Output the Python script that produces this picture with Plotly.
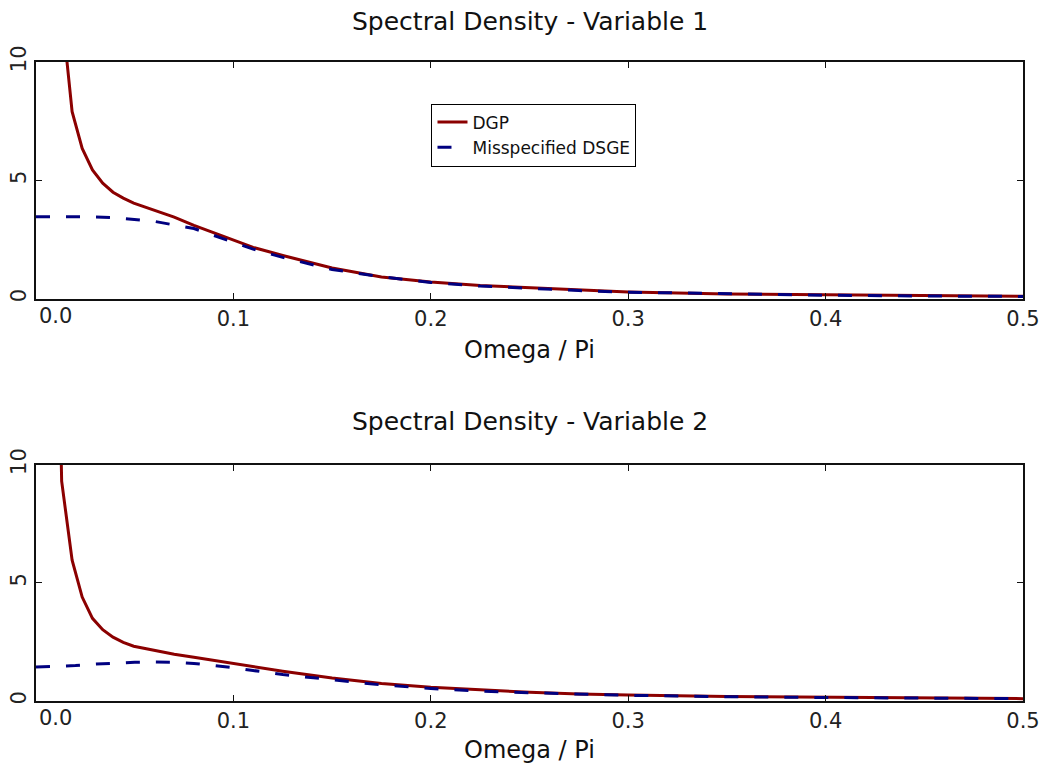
import plotly.graph_objects as go
from plotly.subplots import make_subplots

# ---- data ----
x_dgp = [0.0078, 0.013, 0.0183, 0.0234, 0.0286, 0.0338, 0.039, 0.0442, 0.0495,
         0.06, 0.07, 0.08, 0.09, 0.1, 0.11, 0.125, 0.15, 0.175, 0.2, 0.225,
         0.25, 0.275, 0.3, 0.35, 0.4, 0.45, 0.5]
v1_dgp = [20.0, 12.2, 7.9, 6.35, 5.44, 4.88, 4.5, 4.25, 4.04,
          3.75, 3.45, 3.1, 2.8, 2.48, 2.17, 1.83, 1.30, 0.92, 0.71, 0.56,
          0.46, 0.37, 0.29, 0.20, 0.16, 0.13, 0.11]
v2_dgp = [30.0, 9.3, 5.96, 4.4, 3.5, 3.02, 2.7, 2.48, 2.32,
          2.13, 1.98, 1.85, 1.72, 1.60, 1.47, 1.26, 0.97, 0.74, 0.58, 0.46,
          0.37, 0.30, 0.25, 0.19, 0.15, 0.12, 0.10]

x_dsge = [0.0, 0.01, 0.02, 0.03, 0.04, 0.05, 0.06, 0.07, 0.08, 0.09, 0.1,
          0.11, 0.125, 0.15, 0.175, 0.2, 0.225, 0.25, 0.275, 0.3, 0.35,
          0.4, 0.45, 0.5]
v1_dsge = [3.47, 3.47, 3.47, 3.46, 3.42, 3.36, 3.27, 3.12, 2.97, 2.68, 2.38,
           2.10, 1.75, 1.24, 0.93, 0.69, 0.54, 0.44, 0.35, 0.28, 0.20,
           0.15, 0.12, 0.10]
v2_dsge = [1.44, 1.46, 1.50, 1.56, 1.61, 1.64, 1.65, 1.64, 1.59, 1.51, 1.41,
           1.29, 1.12, 0.90, 0.68, 0.53, 0.42, 0.35, 0.29, 0.24, 0.18,
           0.14, 0.12, 0.10]

titles = ["Spectral Density - Variable 1", "Spectral Density - Variable 2"]
x_label = "Omega / Pi"
x_ticks = [0.0, 0.1, 0.2, 0.3, 0.4, 0.5]
x_ticktext = ["", "0.1", "0.2", "0.3", "0.4", "0.5"]
y_ticks = [0, 5, 10]
y_ticktext = ["0", "5", "10"]

RED = "#8B0000"
BLUE = "#000080"
FONT = "DejaVu Sans"

fig = make_subplots(rows=2, cols=1)

for r, (vd, vs) in enumerate([(v1_dgp, v1_dsge), (v2_dgp, v2_dsge)], start=1):
    fig.add_trace(go.Scatter(x=x_dgp, y=vd, mode="lines", name="DGP",
                             line=dict(color=RED, width=3),
                             showlegend=(r == 1)), row=r, col=1)
    fig.add_trace(go.Scatter(x=x_dsge, y=vs, mode="lines", name="Misspecified DSGE",
                             line=dict(color=BLUE, width=3, dash="14px,16px"),
                             showlegend=(r == 1)), row=r, col=1)

axis_common = dict(showline=True, linecolor="#111", linewidth=2, mirror="ticks",
                   ticks="inside", ticklen=6, tickwidth=1, tickcolor="#111",
                   showgrid=False, zeroline=False, automargin=False,
                   ticklabeloverflow="allow",
                   tickfont=dict(family=FONT, size=21, color="#222"))

for r in (1, 2):
    fig.update_xaxes(range=[0, 0.5], tickvals=x_ticks, ticktext=x_ticktext,
                     ticklabelstandoff=0, row=r, col=1, **axis_common)
    fig.update_yaxes(range=[0, 10], tickvals=y_ticks, ticktext=y_ticktext,
                     tickangle=-90, ticklabelstandoff=0, row=r, col=1, **axis_common)

fig.update_layout(
    width=1039, height=762,
    margin=dict(l=28, r=24, t=54, b=69, autoexpand=False),
    paper_bgcolor="white", plot_bgcolor="white",
    xaxis=dict(domain=[0, 1]), xaxis2=dict(domain=[0, 1]),
    yaxis=dict(domain=[0.6294, 1.0]), yaxis2=dict(domain=[0.0, 0.3698]),
    legend=dict(x=0.4007, y=0.935, xanchor="left", yanchor="top",
                bgcolor="white", bordercolor="black", borderwidth=1,
                font=dict(family=FONT, size=17, color="#111"),
                itemwidth=30, tracegroupgap=0),
    font=dict(family=FONT, color="#111"),
)

ann = []
for i, (yt, ya, ax) in enumerate([(1.0640, 0.5495, "y"), (0.4367, -0.0772, "y2")]):
    ann.append(dict(text=titles[i], x=0.5, y=yt, xref="paper", yref="paper",
                    xanchor="center", yanchor="middle", showarrow=False,
                    font=dict(family=FONT, size=25, color="#111")))
    ann.append(dict(text=x_label, x=0.5, y=ya, xref="paper", yref="paper",
                    xanchor="center", yanchor="middle", showarrow=False,
                    font=dict(family=FONT, size=24, color="#111")))
    ann.append(dict(text="0.0", x=0.0, y=0, xref="x" if ax == "y" else "x2",
                    yref=f"{ax} domain", xanchor="left", yanchor="top",
                    xshift=1, yshift=-3, showarrow=False,
                    font=dict(family=FONT, size=21, color="#222")))
fig.update_layout(annotations=ann)

fig.write_html("out.html")
